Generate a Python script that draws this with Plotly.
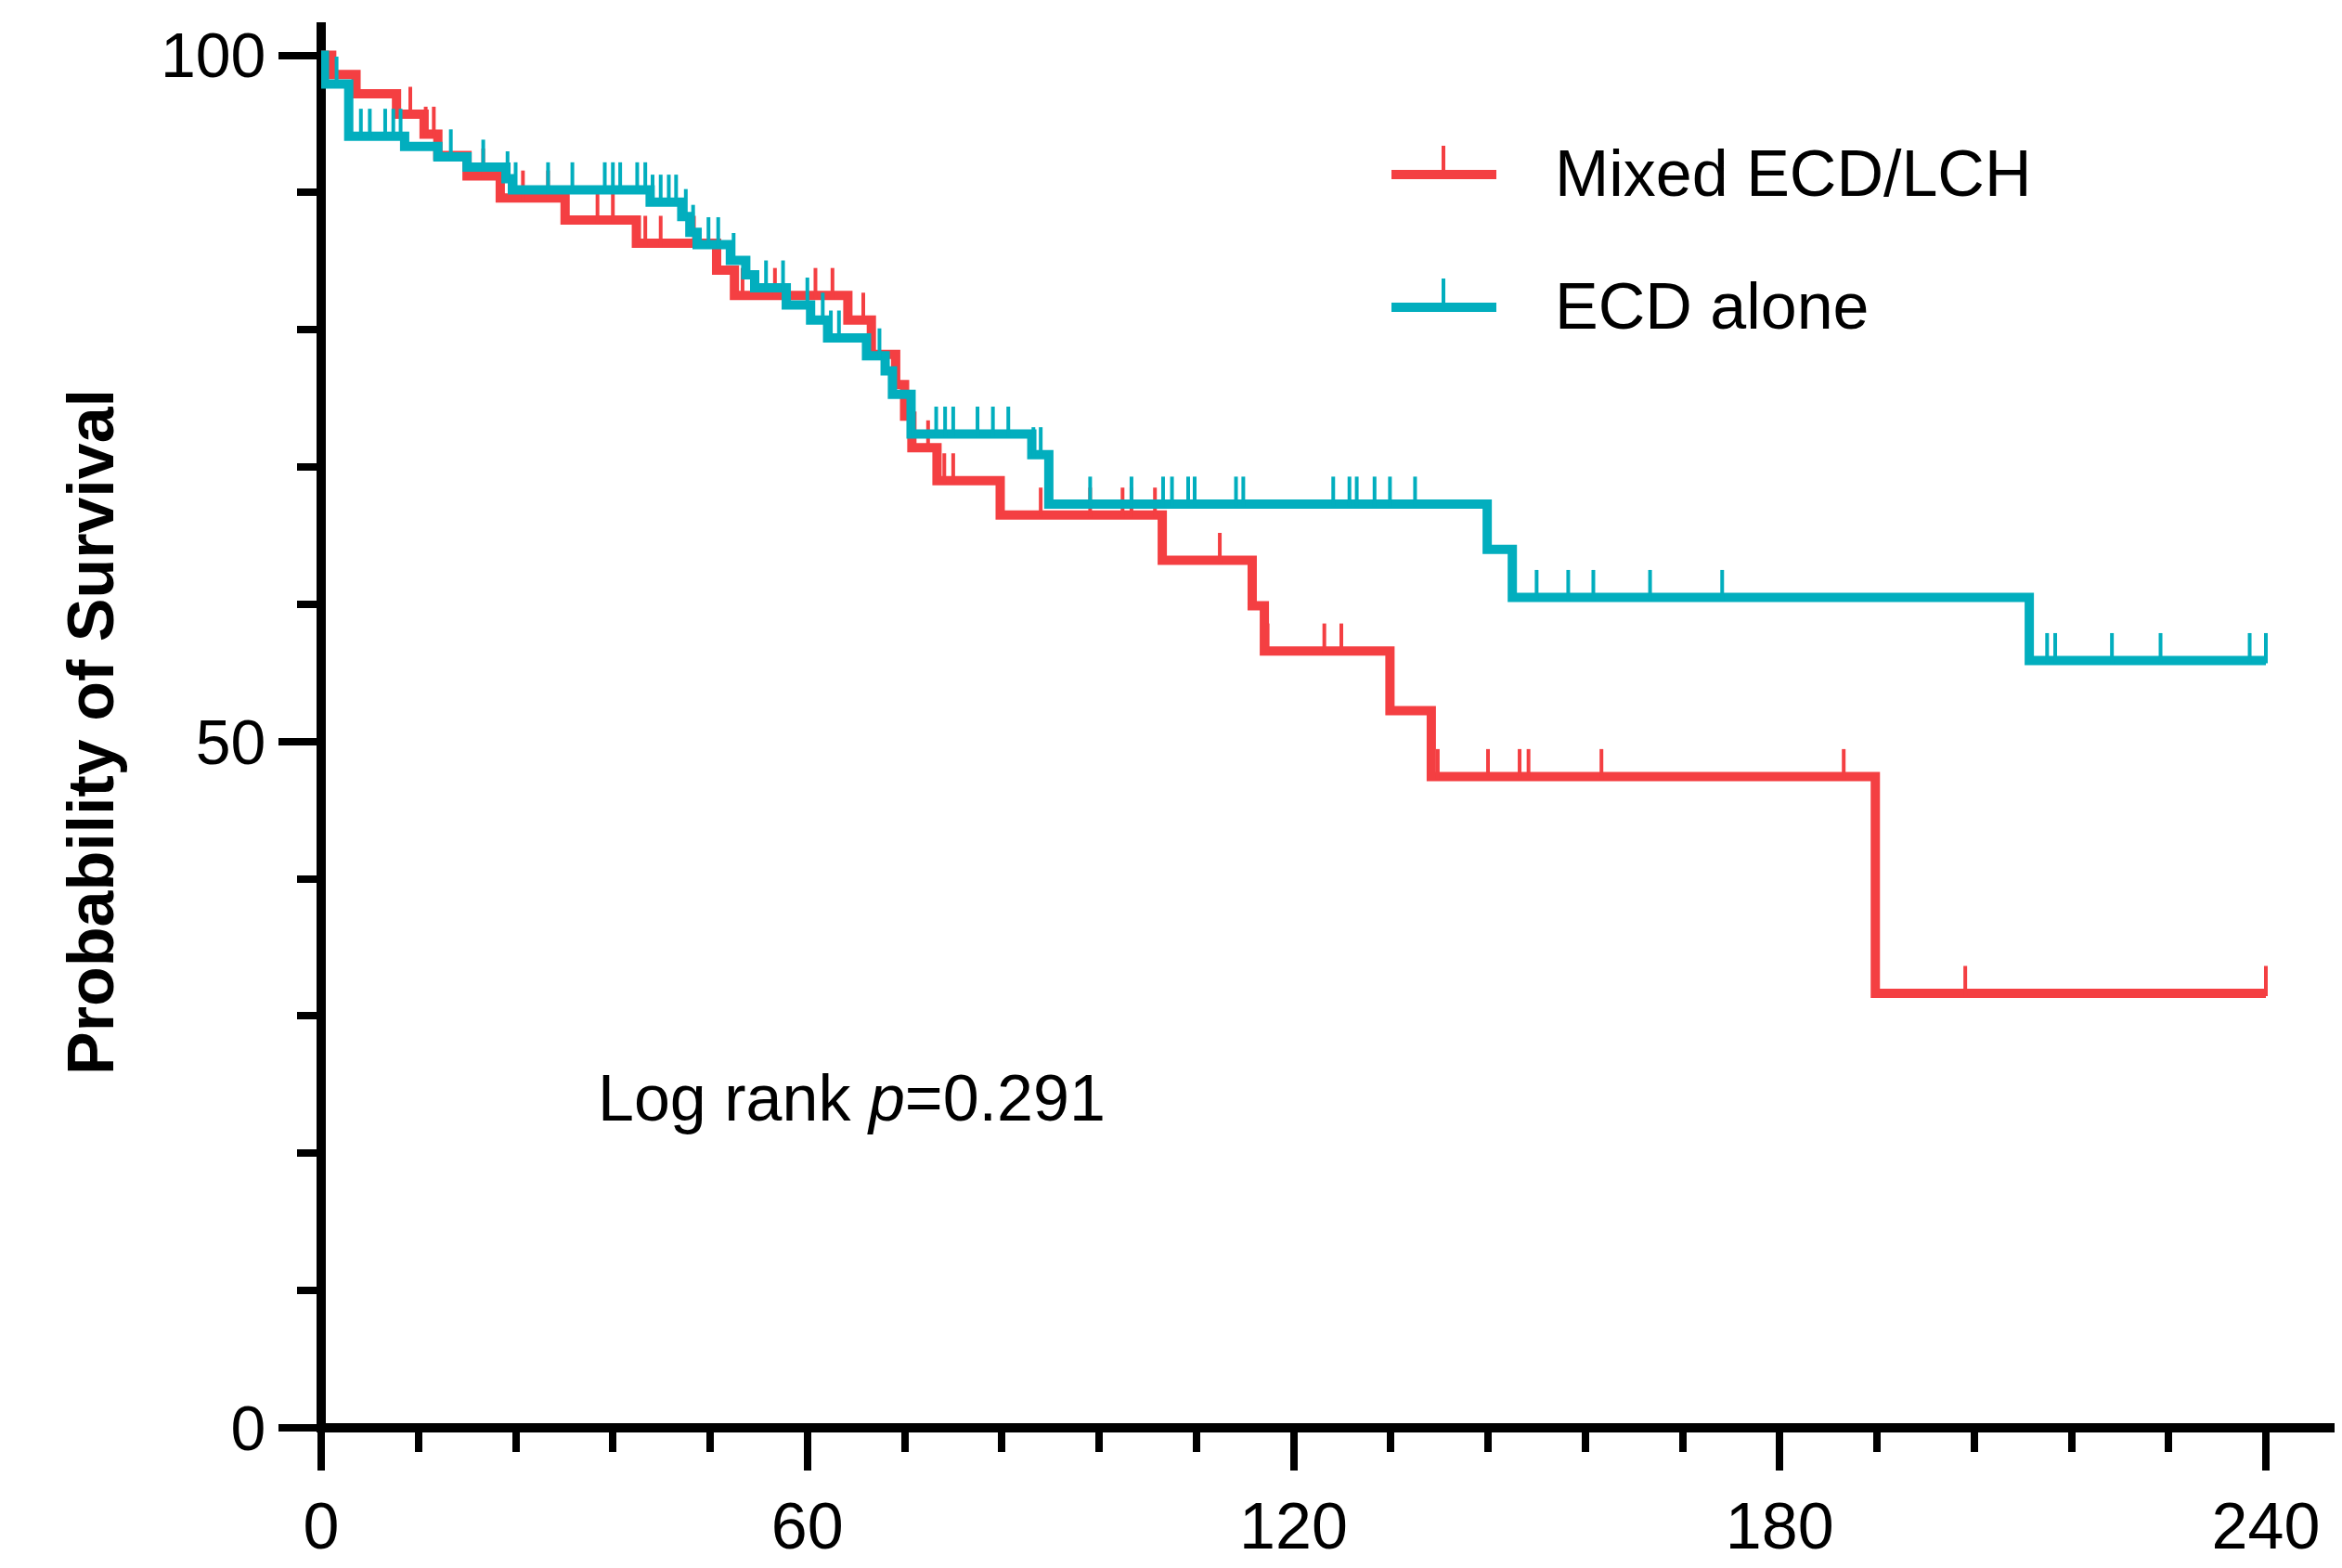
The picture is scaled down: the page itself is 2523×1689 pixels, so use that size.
import plotly.graph_objects as go

# ---------------- data ----------------
follow_up_end = 240

mixed_event_times = [0, 1.3, 4.3, 9.3, 12.7, 14.4, 18.0, 22.1, 30.1, 38.9,
                     48.8, 51.0, 65.0, 67.9, 70.9, 72.0, 72.9, 76.0, 83.8, 103.8,
                     114.9, 116.4, 131.9, 137.0, 191.8]
mixed_survival = [100, 98.6, 97.2, 95.7, 94.25, 92.7, 91.2, 89.6, 88.0, 86.3,
                  84.35, 82.5, 80.7, 78.2, 76.0, 73.7, 71.4, 69.0, 66.5, 63.2,
                  59.9, 56.6, 52.25, 47.45, 31.65]
mixed_censored = [11.0, 12.9, 13.9, 20.0, 24.9, 28.0, 34.1, 36.0, 40.0, 41.9,
                  46.0, 52.0, 56.0, 61.0, 63.1, 66.9, 74.9, 76.9, 78.0, 88.8,
                  94.9, 98.9, 100.0, 102.9, 110.9, 116.8, 123.8, 125.9, 137.8, 144.0,
                  147.9, 149.0, 158.0, 187.9, 202.9, 240.0]

ecd_event_times = [0, 0.4, 3.4, 10.3, 14.4, 18.0, 22.8, 23.6, 40.6, 44.5,
                   45.5, 46.4, 50.5, 52.4, 53.5, 57.4, 60.4, 62.5, 67.3, 69.6,
                   70.5, 72.8, 87.7, 89.8, 143.9, 147.0, 210.8]
ecd_survival = [100, 97.9, 94.1, 93.35, 92.6, 91.85, 91.0, 90.2, 89.3, 88.25,
                87.1, 86.2, 85.05, 84.0, 83.05, 81.8, 80.7, 79.4, 78.1, 77.0,
                75.3, 72.4, 70.9, 67.3, 64.0, 60.5, 55.9]
ecd_censored = [1.9, 4.9, 6.0, 7.9, 8.9, 9.8, 16.0, 20.0, 23.0, 24.0,
                28.0, 31.0, 35.0, 36.0, 36.9, 39.0, 40.0, 40.9, 41.9, 42.9,
                43.8, 45.0, 45.9, 47.8, 49.0, 50.9, 54.9, 57.0, 60.0, 61.9,
                62.9, 63.9, 68.9, 73.0, 75.9, 77.0, 78.0, 81.0, 82.9, 84.8,
                87.9, 88.8, 94.9, 100.0, 103.9, 105.0, 107.0, 107.8, 112.9, 113.8,
                124.9, 126.9, 127.8, 130.0, 131.9, 135.0, 150.0, 153.9, 157.0, 164.0,
                172.9, 213.0, 214.0, 221.0, 227.0, 238.0, 240.0]

group_names = ["Mixed ECD/LCH", "ECD alone"]
x_tick_labels = ["0", "60", "120", "180", "240"]
y_tick_labels = ["0", "50", "100"]
p_value_text = "0.291"

# ---------------- style ----------------
RED = "#F43F42"
TEAL = "#02AEBE"
FONT = "Liberation Sans, Arial, Helvetica, sans-serif"
LINE_W = 10
TICK_W = 4
CENSOR_H = 2.0          # height of censor marks, in survival units

PAGE_OFF = 8            # default body margin of the html page
W, H = 2523 - PAGE_OFF, 1689 - PAGE_OFF
# plot box, in page pixels
P_LEFT, P_TOP, P_BOTTOM = 346, 24, 1538
L = P_LEFT - PAGE_OFF
T = P_TOP - PAGE_OFF
B = H - (P_BOTTOM - PAGE_OFF)
PLOT_W = W - L
PLOT_H = H - T - B


def level_at(times, surv, t):
    s = surv[0]
    for ti, si in zip(times, surv):
        if ti <= t:
            s = si
    return s


def step_xy(times, surv):
    return list(times) + [follow_up_end], list(surv) + [surv[-1]]


def censor_xy(times, surv, cens):
    xs, ys = [], []
    for c in cens:
        s = level_at(times, surv, c)
        xs += [c, c, None]
        ys += [s - 0.2, s + CENSOR_H, None]
    return xs, ys


fig = go.Figure()
for name, times, surv, cens, col in [
    (group_names[0], mixed_event_times, mixed_survival, mixed_censored, RED),
    (group_names[1], ecd_event_times, ecd_survival, ecd_censored, TEAL),
]:
    sx, sy = step_xy(times, surv)
    fig.add_trace(go.Scatter(x=sx, y=sy, mode="lines", name=name,
                             line=dict(color=col, width=LINE_W, shape="hv"),
                             showlegend=False, hoverinfo="skip"))
    cx, cy = censor_xy(times, surv, cens)
    fig.add_trace(go.Scatter(x=cx, y=cy, mode="lines", name=name + " censored",
                             line=dict(color=col, width=TICK_W),
                             showlegend=False, hoverinfo="skip"))

x_scale = (2441 - 346) / 240.0
y_scale = (1538 - 59.5) / 100.0
x_max = PLOT_W / x_scale
y_max = PLOT_H / y_scale


def px_x(px):
    # page pixel -> paper x
    return (px - P_LEFT) / PLOT_W


def px_y(py):
    # page pixel -> paper y
    return (P_BOTTOM - py) / PLOT_H


shapes = [
    # axis lines
    dict(type="line", xref="paper", yref="paper", x0=px_x(341), x1=1.01, y0=0, y1=0,
         line=dict(color="black", width=10), layer="below"),
    dict(type="line", xref="paper", yref="paper", x0=0, x1=0, y0=px_y(1543), y1=1,
         line=dict(color="black", width=10), layer="below"),
]
# legend samples
for col, ly, tt in [(RED, 188, 157), (TEAL, 331, 300)]:
    shapes.append(dict(type="line", xref="paper", yref="paper",
                       x0=px_x(1499), x1=px_x(1612), y0=px_y(ly), y1=px_y(ly),
                       line=dict(color=col, width=10)))
    shapes.append(dict(type="line", xref="paper", yref="paper",
                       x0=px_x(1555), x1=px_x(1555), y0=px_y(ly), y1=px_y(tt),
                       line=dict(color=col, width=TICK_W)))

annotations = [
    dict(text="<b>Probability of Survival</b>", xref="paper", yref="paper",
         x=px_x(98), y=px_y(789), xanchor="center", yanchor="middle",
         textangle=-90, showarrow=False, font=dict(family=FONT, size=70, color="black")),
    dict(text="Log rank <i>p</i>=" + p_value_text, xref="paper", yref="paper",
         x=px_x(642), y=px_y(1183), xanchor="left", yanchor="middle",
         showarrow=False, font=dict(family=FONT, size=70, color="black")),
]
for name, ly in [(group_names[0], 187), (group_names[1], 330)]:
    annotations.append(dict(text=name, xref="paper", yref="paper",
                            x=px_x(1673), y=px_y(ly), xanchor="left", yanchor="middle",
                            showarrow=False, font=dict(family=FONT, size=70, color="black")))

fig.update_layout(
    width=W, height=H,
    margin=dict(l=L, r=0, t=T, b=B, pad=0),
    paper_bgcolor="white", plot_bgcolor="white",
    showlegend=False,
    shapes=shapes,
    annotations=annotations,
    xaxis=dict(range=[0, x_max], showline=False, showgrid=False, zeroline=False,
               tickmode="array", tickvals=[int(v) for v in x_tick_labels], ticktext=x_tick_labels,
               ticks="outside", ticklen=45, tickwidth=8, tickcolor="black",
               minor=dict(dtick=12, tick0=0, ticks="outside", ticklen=25, tickwidth=8,
                          tickcolor="black", showgrid=False),
               tickfont=dict(family=FONT, size=70, color="black"),
               layer="below traces", fixedrange=True),
    yaxis=dict(range=[0, y_max], showline=False, showgrid=False, zeroline=False,
               tickmode="array", tickvals=[int(v) for v in y_tick_labels], ticktext=y_tick_labels,
               ticks="outside", ticklen=45, tickwidth=8, tickcolor="black",
               minor=dict(dtick=10, tick0=0, ticks="outside", ticklen=25, tickwidth=8,
                          tickcolor="black", showgrid=False),
               tickfont=dict(family=FONT, size=68, color="black"),
               layer="below traces", fixedrange=True),
)

fig.write_html("out.html")
